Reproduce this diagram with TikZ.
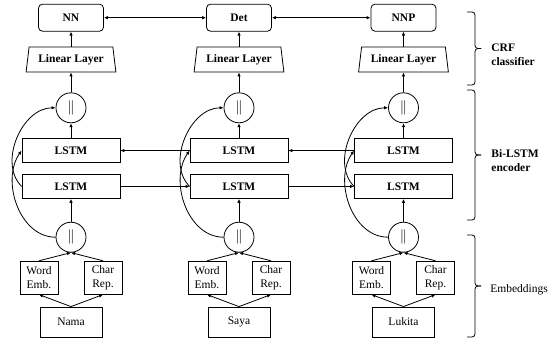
\documentclass[tikz,border=0pt]{standalone}
\usepackage{fontspec}
\setmainfont{Liberation Serif}
\usetikzlibrary{arrows.meta, positioning, shapes.geometric}
\newcommand{\lblsize}{\fontsize{11.5}{14}\selectfont}

\begin{document}
\begin{tikzpicture}[
  x=1pt, y=1pt,
  line width=0.8pt,
  box/.style={draw, align=center, font=\lblsize, inner sep=1pt},
  wordbox/.style={box, minimum width=62pt, minimum height=30pt},
  embbox/.style={box, minimum width=38pt, minimum height=33pt},
  lstm/.style={box, font=\lblsize\bfseries, minimum width=98pt, minimum height=24pt},
  cat/.style={draw, circle, minimum size=30pt, inner sep=0pt, font=\fontsize{15}{15}\selectfont},
  linbox/.style={box, trapezium, trapezium left angle=79, trapezium right angle=79,
    trapezium stretches=true, minimum width=90pt, minimum height=25pt, font=\lblsize\bfseries},
  tagbox/.style={box, rounded corners=4pt, minimum width=65pt, minimum height=27pt, font=\lblsize\bfseries},
  arr/.style={-{Latex[length=4pt, width=3.5pt]}},
  biarr/.style={{Latex[length=4pt, width=3.5pt]}-{Latex[length=4pt, width=3.5pt]}},
  side/.style={align=left, inner sep=0pt, font=\lblsize, anchor=west}
]
  \useasboundingbox (0,0) rectangle (550,338);

  % one column per word: embeddings, Bi-LSTM, linear layer, tag
  \foreach \i/\word/\lab/\x in {1/Nama/NN/71, 2/Saya/Det/239, 3/Lukita/NNP/403.5} {
    \node[wordbox] (w\i) at (\x,16) {\word};
    \node[embbox, above=12pt of w\i, xshift=-32pt] (we\i) {Word\\Emb.};
    \node[embbox, above=12pt of w\i, xshift=32pt] (cr\i) {Char\\Rep.};
    \node[cat, above=54pt of w\i] (cb\i) {$\Vert$};
    \node[lstm, above=23pt of cb\i] (lf\i) {LSTM};
    \node[lstm, above=11pt of lf\i] (lb\i) {LSTM};
    \node[cat, above=15pt of lb\i] (ct\i) {$\Vert$};
    \node[linbox, above=20pt of ct\i] (lin\i) {Linear Layer};
    \node[tagbox, above=15pt of lin\i] (tag\i) {\lab};

    \draw[arr] (w\i.north) -- (we\i.south);
    \draw[arr] (w\i.north) -- (cr\i.south);
    \draw[arr] (we\i.north) -- (cb\i.south);
    \draw[arr] (cr\i.north) -- (cb\i.south);
    \draw[arr] (cb\i.north) -- (lf\i.south);
    \draw[arr] (lb\i.north) -- (ct\i.south);
    \draw[arr] (ct\i.north) -- (lin\i.south);
    \draw[arr] (lin\i.north) -- (tag\i.south);
    % crossing links into the backward cell and out of the forward cell
    \draw[arr] (cb\i.west) to[out=180, in=235] (lb\i.west);
    \draw[arr] (lf\i.west) to[out=135, in=180] (ct\i.west);
  }

  \draw[biarr] (tag1) -- (tag2);
  \draw[biarr] (tag2) -- (tag3);
  \draw[arr] (lb2) -- (lb1);
  \draw[arr] (lb3) -- (lb2);
  \draw[arr] (lf1) -- (lf2);
  \draw[arr] (lf2) -- (lf3);

  % layer braces
  \foreach \top/\bot in {326/253, 248/118, 103/1} {
    \draw[rounded corners=3pt] (467,\top) -| (475,{(\top+\bot)/2}) -- (481,{(\top+\bot)/2});
    \draw[rounded corners=3pt] (481,{(\top+\bot)/2}) -- (475,{(\top+\bot)/2}) |- (467,\bot);
  }
  \node[side, font=\lblsize\bfseries] (crf) at (491,283) {CRF\\classifier};
  \node[side, font=\lblsize\bfseries] (enc) at (491,177) {Bi-LSTM\\encoder};
  \node[side] (emb) at (490,48) {Embeddings};
\end{tikzpicture}
\end{document}
